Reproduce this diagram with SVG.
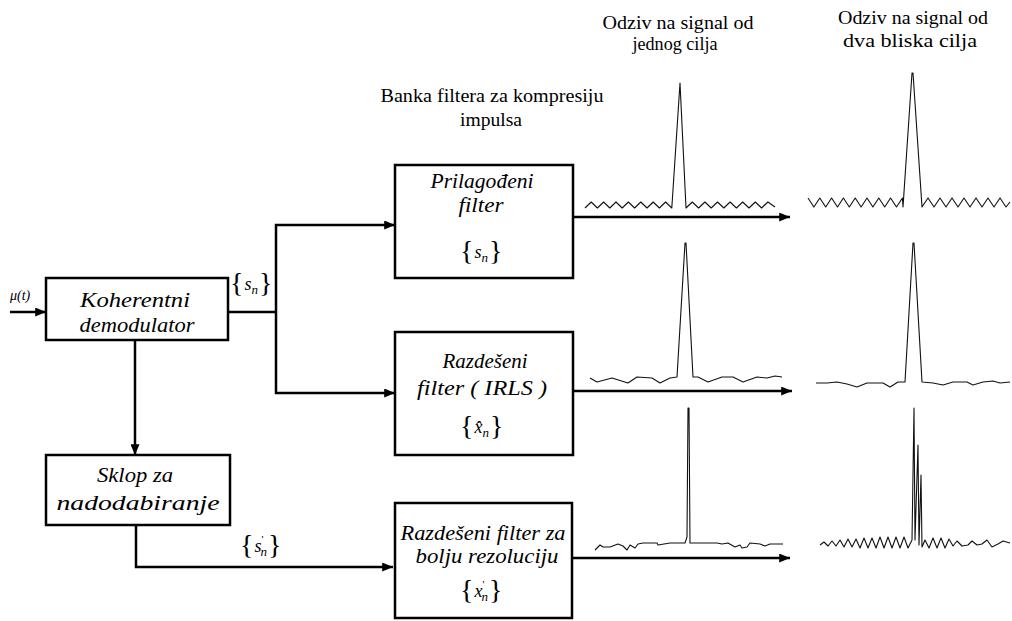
<svg xmlns="http://www.w3.org/2000/svg" width="1012" height="621" viewBox="0 0 1012 621">
<style>
text{font-family:"Liberation Serif","Times New Roman",serif;fill:#000}
.box{fill:#fff;stroke:#000;stroke-width:2.5}
.conn{fill:none;stroke:#000;stroke-width:2.5}
.wave{fill:none;stroke:#111;stroke-width:1.1;stroke-linejoin:round}
.bt{font-style:italic;font-size:21px;text-anchor:middle}
.hd{font-size:18px;text-anchor:middle}
.br{font-size:28px}
.it{font-style:italic}
</style>
<defs>
<marker id="ah" viewBox="0 0 12 10" refX="12" refY="5" markerWidth="12" markerHeight="9" markerUnits="userSpaceOnUse" orient="auto">
<path d="M0,0 L12,5 L0,10 Z" fill="#000"/>
</marker>
</defs>
<rect width="1012" height="621" fill="#fff"/>

<g id="headers">
<text class="hd" x="678" y="29" textLength="151" lengthAdjust="spacingAndGlyphs">Odziv na signal od</text>
<text class="hd" x="675" y="50" textLength="85" lengthAdjust="spacingAndGlyphs">jednog cilja</text>
<text class="hd" x="913" y="24" textLength="150" lengthAdjust="spacingAndGlyphs">Odziv na signal od</text>
<text class="hd" x="910" y="47" textLength="134" lengthAdjust="spacingAndGlyphs">dva bliska cilja</text>
<text class="hd" x="492" y="102" textLength="223" lengthAdjust="spacingAndGlyphs">Banka filtera za kompresiju</text>
<text class="hd" x="491" y="126" textLength="62" lengthAdjust="spacingAndGlyphs">impulsa</text>
</g>

<g id="connectors">
<line class="conn" x1="10" y1="312" x2="46" y2="312" marker-end="url(#ah)"/>
<polyline class="conn" points="228,312 276,312"/>
<polyline class="conn" points="276,312 276,225 395,225" marker-end="url(#ah)"/>
<polyline class="conn" points="276,312 276,393 395,393" marker-end="url(#ah)"/>
<line class="conn" x1="135" y1="340" x2="135" y2="455" marker-end="url(#ah)"/>
<polyline class="conn" points="136,525 136,567 393,567" marker-end="url(#ah)"/>
<line class="conn" x1="573" y1="217" x2="790" y2="217" marker-end="url(#ah)"/>
<line class="conn" x1="573" y1="391" x2="792" y2="391" marker-end="url(#ah)"/>
<line class="conn" x1="572" y1="558" x2="790" y2="558" marker-end="url(#ah)"/>
</g>

<g id="labels">
<text class="it" x="10" y="300" font-size="14">μ(t)</text>
<text class="br" x="230" y="292">{<tspan class="it" font-size="18" dx="1" dy="-2">s</tspan><tspan class="it" font-size="13" dy="4">n</tspan><tspan dy="-2" dx="1">}</tspan></text>
<text class="br" x="240" y="554">{<tspan class="it" font-size="18" dx="1" dy="-2">s</tspan><tspan font-size="11" dy="-9">'</tspan><tspan class="it" font-size="13" dy="13" dx="-3">n</tspan><tspan dy="-2" dx="1">}</tspan></text>
</g>

<g id="koherentni">
<rect class="box" x="46" y="278" width="182" height="62"/>
<text class="bt" x="135" y="307" textLength="110" lengthAdjust="spacingAndGlyphs">Koherentni</text>
<text class="bt" x="137" y="332" textLength="115" lengthAdjust="spacingAndGlyphs">demodulator</text>
</g>

<g id="sklop">
<rect class="box" x="46" y="455" width="184" height="70"/>
<text class="bt" x="135" y="482" textLength="76" lengthAdjust="spacingAndGlyphs">Sklop za</text>
<text class="bt" x="138" y="510" textLength="163" lengthAdjust="spacingAndGlyphs">nadodabiranje</text>
</g>

<g id="prilagodeni">
<rect class="box" x="395" y="165" width="178" height="113"/>
<text class="bt" x="482" y="188" textLength="103" lengthAdjust="spacingAndGlyphs">Prilagođeni</text>
<text class="bt" x="481" y="212" textLength="45" lengthAdjust="spacingAndGlyphs">filter</text>
<text class="br" x="460" y="260">{<tspan class="it" font-size="18" dx="1" dy="-2">s</tspan><tspan class="it" font-size="13" dy="4">n</tspan><tspan dy="-2" dx="1">}</tspan></text>
</g>

<g id="irls">
<rect class="box" x="395" y="332" width="178" height="123"/>
<text class="bt" x="485" y="368" textLength="85" lengthAdjust="spacingAndGlyphs">Razdešeni</text>
<text class="bt" x="482" y="395" textLength="130" lengthAdjust="spacingAndGlyphs">filter ( IRLS )</text>
<text class="br" x="460" y="435">{<tspan class="it" font-size="18" dx="1" dy="-2">x̂</tspan><tspan class="it" font-size="13" dy="4">n</tspan><tspan dy="-2" dx="1">}</tspan></text>
</g>

<g id="rezolucija">
<rect class="box" x="395" y="503" width="177" height="115"/>
<text class="bt" x="483" y="540" textLength="165" lengthAdjust="spacingAndGlyphs">Razdešeni  filter za</text>
<text class="bt" x="487" y="563" textLength="143" lengthAdjust="spacingAndGlyphs">bolju rezoluciju</text>
<text class="br" x="460" y="599">{<tspan class="it" font-size="18" dx="1" dy="-2">x</tspan><tspan font-size="11" dy="-9">'</tspan><tspan class="it" font-size="13" dy="13" dx="-3">n</tspan><tspan dy="-2" dx="1">}</tspan></text>
</g>

<g id="waveforms">
<polyline class="wave" points="585,208 591.2,202 597.4,208 603.6,202 609.8,208 616,202 622.2,208 628.4,202 634.6,208 640.8,202 647,208 653.2,202 659.4,208 665.6,202 671.8,208 680,83 686,208 692.3,202 698.6,208 704.9,202 711.2,208 717.5,202 723.8,208 730.1,202 736.4,208 742.7,202 749,208 755.3,202 761.6,208 767.9,202 775,207"/>
<polyline class="wave" points="808,198 813.9,207 819.8,198 825.7,207 831.6,198 837.5,207 843.4,198 849.3,207 855.2,198 861.1,207 867,198 872.9,207 878.8,198 884.7,207 890.6,198 896.5,207 902.4,198 903,207 912,73 913,73 922,207 928,198 934,207 940,198 946,207 952,198 958,207 964,198 970,207 976,198 982,207 988,198 994,207 1000,198 1006,207 1010,202"/>
<polyline class="wave" points="590,378 597,382 612,378 628,383 637,377 652,378 660,383 670,378 677,377 685,243 686,243 693,377 698,377 708,382 722,377 733,377 743,382 757,377 767,378 775,376 782,377"/>
<polyline class="wave" points="816,383 827,383 837,382 847,384 857,387 867,383 883,383 890,387 898,382 905,382 913,243 914,243 922,382 933,383 943,385 953,382 967,382 973,385 983,382 993,381 1000,383 1010,382"/>
<polyline class="wave" points="595,550 600,545 603,547 610,547 618,544 623,546 627,550 630,545 635,548 638,544 643,543 657,543 658,545 670,543 685,543 687,537 688,408 689,408 690,543 702,543 717,543 722,544 728,543 735,547 740,545 742,548 747,547 750,543 760,544 765,546 770,544 783,544"/>
<polyline class="wave" points="820,545 824,542 828,546 832,541 836,546 840,540 844,547 848,539 852,547 856,539 860,548 864,538 868,548 872,538 876,548 880,537 884,548 888,537 892,548 896,537 900,548 904,537 908,548 912,540 914,408 915,540 918,445 919,545 921,475 922,547 925,540 929,548 933,538 937,548 941,538 945,548 949,539 953,546 957,541 962,546 968,545 972,541 977,545 982,544 987,540 992,547 998,544 1003,541 1010,543"/>
</g>
</svg>
